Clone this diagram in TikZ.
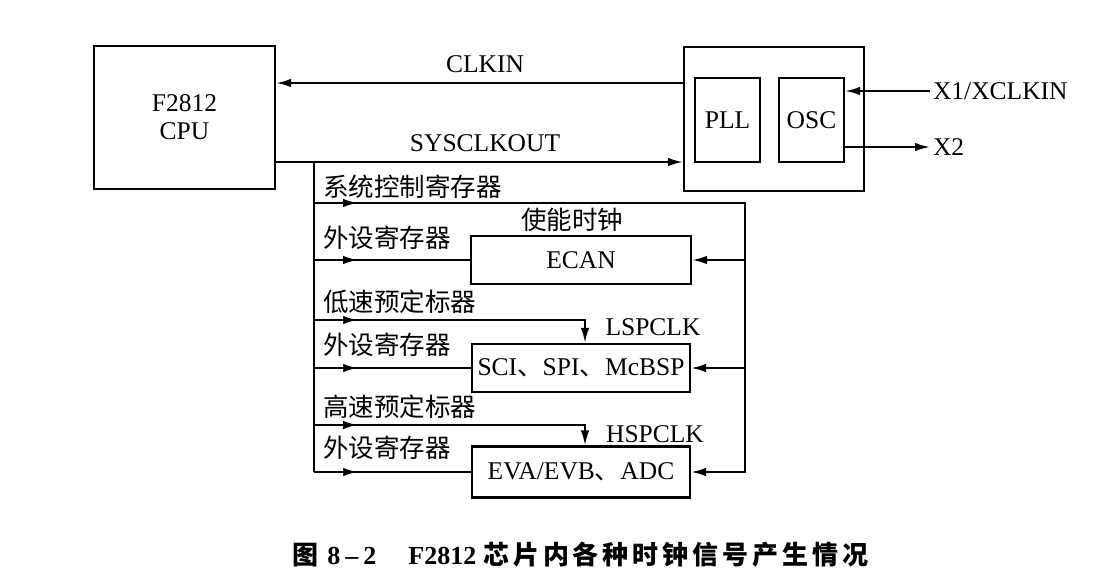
\documentclass[tikz,border=0pt]{standalone}
\usepackage{fontspec}
\setmainfont{Liberation Serif}
\newfontfamily\cjk{Noto Sans CJK SC}
\usetikzlibrary{arrows.meta,decorations.markings}
\begin{document}
\begin{tikzpicture}[x=1pt,y=-1pt,
    line width=2.1pt,
    font=\fontsize{25.5}{28}\selectfont,
    blk/.style={draw,rectangle,inner sep=0pt,align=center},
    sig/.style={-{Latex[length=15pt,width=8.5pt]}},
    midarr/.style={postaction={decorate},decoration={markings,
      mark=at position 44pt with {\arrow{Latex[length=15pt,width=8.5pt]}}}},
    zh/.style={font=\fontsize{25.5}{28}\selectfont\cjk,anchor=west,inner sep=0pt}]
    \useasboundingbox (0,0) rectangle (1099,586);
    \path (184.5,117.5) node[blk,minimum width=181pt,minimum height=143pt] (cpu) {F2812\\CPU};
    \path (774,119) node[blk,minimum width=180pt,minimum height=144pt] (clk) {};
    \path (727.5,120) node[blk,minimum width=65pt,minimum height=84pt] (pll) {PLL};
    \path (811.5,120) node[blk,minimum width=65pt,minimum height=84pt] (osc) {OSC};
    \path (581,260) node[blk,minimum width=220pt,minimum height=48pt] (ecan) {ECAN};
    \path (581,368) node[blk,minimum width=218pt,minimum height=48pt] (sci) {SCI{\cjk 、}SPI{\cjk 、}McBSP};
    \path (581,472) node[blk,minimum width=218pt,minimum height=51pt] (eva) {EVA/EVB{\cjk 、}ADC};
    \coordinate (bt) at (314,162);
    \coordinate (rt) at (745,203);
    \coordinate (lsp) at (585,320);
    \coordinate (hsp) at (585,425);
    \draw[sig] (clk.west|-0,83) -- (cpu.east|-0,83);
    \draw[sig] (cpu.east|-bt) -- (clk.west|-bt);
    \path (485,64) node (clkin) {CLKIN};
    \path (485,143) node (sysclk) {SYSCLKOUT};
    \path (930,91) node[anchor=west,inner sep=2pt] (x1) {X1/XCLKIN};
    \path (930,147) node[anchor=west,inner sep=2pt] (x2) {X2};
    \draw[sig] (x1.west) -- (x1.west-|osc.east);
    \draw[sig] (x2.west-|osc.east) -- (x2.west);
    \draw (bt) -- (bt|-eva.west);
    \draw[sig,midarr] (bt|-rt) -- (rt) -- (rt|-eva.east) -- (eva.east);
    \draw[sig] (rt|-ecan.east) -- (ecan.east);
    \draw[sig] (rt|-sci.east) -- (sci.east);
    \draw[midarr] (bt|-ecan.west) -- (ecan.west);
    \draw[midarr] (bt|-sci.west) -- (sci.west);
    \draw[midarr] (bt|-eva.west) -- (eva.west);
    \draw[sig,midarr] (bt|-lsp) -- (lsp) -- (lsp|-sci.north);
    \draw[sig,midarr] (bt|-hsp) -- (hsp) -- (hsp|-eva.north);
    \path (322,187) node[zh] (sysreg) {系统控制寄存器};
    \path (322,238) node[zh] (ecanreg) {外设寄存器};
    \path (572,220) node[zh,anchor=center] (enclk) {使能时钟};
    \path (322,302) node[zh] (lspre) {低速预定标器};
    \path (322,345) node[zh] (scireg) {外设寄存器};
    \path (322,407) node[zh] (hspre) {高速预定标器};
    \path (322,448) node[zh] (evareg) {外设寄存器};
    \path (653,327) node (lspclk) {LSPCLK};
    \path (655,434) node (hspclk) {HSPCLK};
    \path (288,555) node[anchor=west,font=\fontsize{26}{30}\selectfont\bfseries] (cap)
      {{\cjk 图}\hspace{9pt}8\hspace{5pt}--\hspace{5pt}2\hspace{32pt}F2812\hspace{7pt}{\cjk\addfontfeatures{LetterSpace=15}芯片内各种时钟信号产生情况}};
\end{tikzpicture}
\end{document}
